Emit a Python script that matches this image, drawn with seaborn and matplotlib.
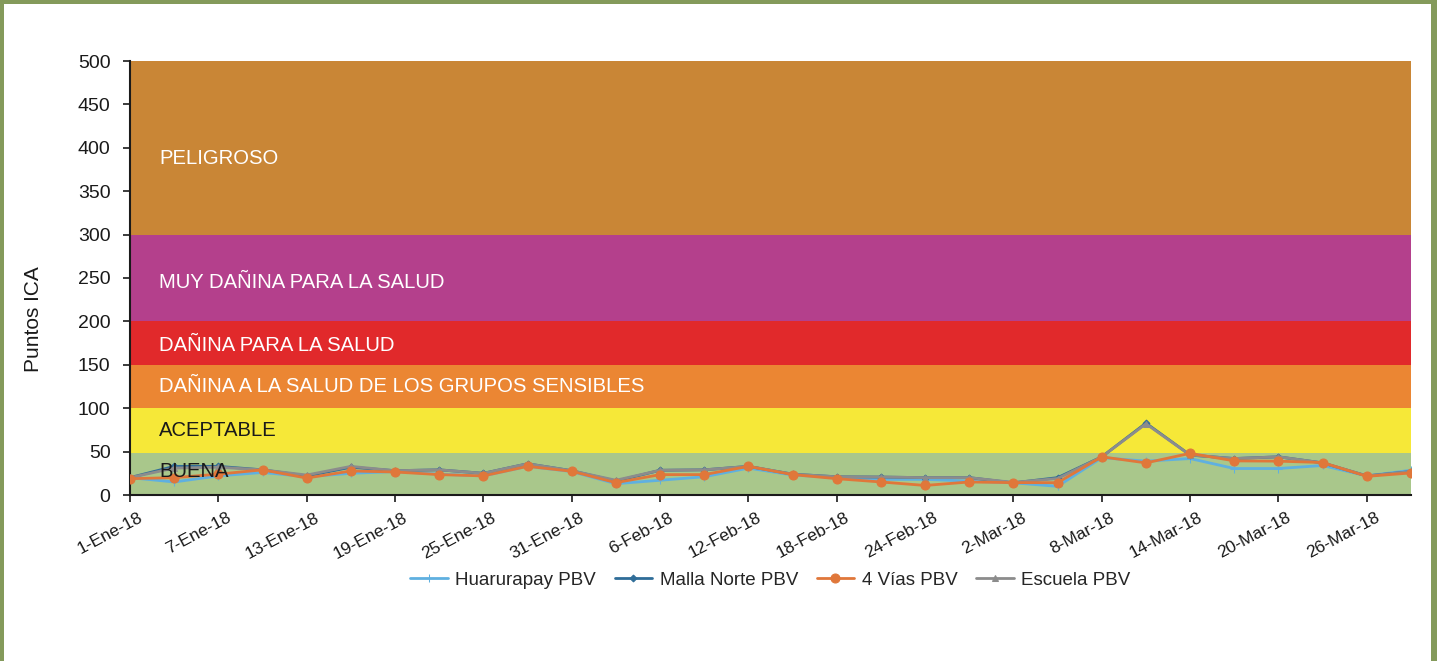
import matplotlib
matplotlib.use("Agg")
import matplotlib.pyplot as plt
import matplotlib.transforms as mtransforms
from matplotlib.patches import Rectangle
import seaborn as sns
import pandas as pd

# ---------------- data ----------------
dates = ["2018-01-01", "2018-01-04", "2018-01-07", "2018-01-10", "2018-01-13",
         "2018-01-16", "2018-01-19", "2018-01-22", "2018-01-25", "2018-01-28",
         "2018-01-31", "2018-02-03", "2018-02-06", "2018-02-09", "2018-02-12",
         "2018-02-15", "2018-02-18", "2018-02-21", "2018-02-24", "2018-02-27",
         "2018-03-02", "2018-03-05", "2018-03-08", "2018-03-11", "2018-03-14",
         "2018-03-17", "2018-03-20", "2018-03-23", "2018-03-26", "2018-03-29"]

huarurapay = [20, 15, 22, 26, 21, 25, 27, 24, 22, 33, 27, 13, 17, 21, 31,
              23, 20, 18, 18, 16, 14, 10, 43, 39, 42, 30.5, 30.5, 34, 22, 28.5]
malla_norte = [20, 33, 33, 29, 22, 32, 28, 29, 25, 36, 28, 16, 28.5, 29, 33,
               24, 21, 20.7, 20, 20, 14, 20, 44, 82.8, 46, 42, 44, 37, 22, 27]
cuatro_vias = [18.8, 20, 24, 29, 19.5, 27.7, 26.5, 23.5, 22, 33, 27.3, 14.2, 23.5, 23.5, 33,
               23.5, 18.8, 15, 11, 15, 14.2, 14.2, 44, 37, 48, 39.3, 39, 37.4, 21.5, 25.4]
escuela = [20, 31, 32, 29, 23, 33, 28, 29, 25, 36, 28, 17, 28.5, 29, 33,
           24, 21, 20.7, 20, 20, 14.5, 19, 44, 82, 46, 42, 44, 37, 22, 27]

series_names = ["Huarurapay PBV", "Malla Norte PBV", "4 Vías PBV", "Escuela PBV"]

tick_dates = ["2018-01-01", "2018-01-07", "2018-01-13", "2018-01-19", "2018-01-25",
              "2018-01-31", "2018-02-06", "2018-02-12", "2018-02-18", "2018-02-24",
              "2018-03-02", "2018-03-08", "2018-03-14", "2018-03-20", "2018-03-26"]
tick_labels = ["1-Ene-18", "7-Ene-18", "13-Ene-18", "19-Ene-18", "25-Ene-18",
               "31-Ene-18", "6-Feb-18", "12-Feb-18", "18-Feb-18", "24-Feb-18",
               "2-Mar-18", "8-Mar-18", "14-Mar-18", "20-Mar-18", "26-Mar-18"]

band_low = [0, 48, 100, 150, 200, 300]
band_high = [48, 100, 150, 200, 300, 500]
band_names = ["BUENA", "ACEPTABLE", "DAÑINA A LA SALUD DE LOS GRUPOS SENSIBLES",
              "DAÑINA PARA LA SALUD", "MUY DAÑINA PARA LA SALUD", "PELIGROSO"]

# ---------------- styles ----------------
band_colors = ["#a9c78b", "#f6e838", "#eb8633", "#e1292b", "#b4408c", "#c98636"]
band_text_colors = ["#1a1a1a", "#1a1a1a", "white", "white", "white", "white"]
band_text_y = [27, 74, 125, 172, 245, 388]

line_colors = {"Huarurapay PBV": "#5fb0e0", "Malla Norte PBV": "#2f6d98",
               "4 Vías PBV": "#e0773a", "Escuela PBV": "#8c8c8c"}
line_markers = {"Huarurapay PBV": "+", "Malla Norte PBV": "D",
                "4 Vías PBV": "o", "Escuela PBV": "^"}
marker_sizes = {"Huarurapay PBV": 6, "Malla Norte PBV": 3.5,
                "4 Vías PBV": 6.5, "Escuela PBV": 5}
zorders = {"Huarurapay PBV": 3, "Malla Norte PBV": 4, "4 Vías PBV": 6, "Escuela PBV": 5}

sns.set_style("ticks")
plt.rcParams["font.family"] = ["Liberation Sans", "DejaVu Sans"]

fig = plt.figure(figsize=(14.37, 6.61), dpi=100)
ax = fig.add_axes([130 / 1437, 1 - 495 / 661, (1411 - 130) / 1437, (495 - 61) / 661])

for lo, hi, c in zip(band_low, band_high, band_colors):
    ax.axhspan(lo, hi, color=c, lw=0, zorder=0)

handles = []
for name, vals in zip(series_names, [huarurapay, malla_norte, cuatro_vias, escuela]):
    d = pd.DataFrame({"fecha": pd.to_datetime(dates), "ICA": vals})
    sns.lineplot(data=d, x="fecha", y="ICA", color=line_colors[name],
                 marker=line_markers[name], markersize=marker_sizes[name],
                 markeredgecolor=line_colors[name], markerfacecolor=line_colors[name],
                 linewidth=2, legend=False, ax=ax, zorder=zorders[name])
    handles.append(ax.lines[-1])

x0 = pd.Timestamp("2018-01-03")
for name, ty, tc in zip(band_names, band_text_y, band_text_colors):
    ax.text(x0, ty, name, color=tc, fontsize=14.6, va="center", ha="left", zorder=7)

ax.set_xlim(pd.Timestamp(dates[0]), pd.Timestamp(dates[-1]))
ax.set_ylim(0, 500)
ax.set_yticks(range(0, 501, 50))
ax.tick_params(axis="y", labelsize=14, length=5, width=1.2, colors="#1a1a1a", pad=9)
ax.set_xticks(pd.to_datetime(tick_dates))
ax.set_xticklabels(tick_labels, rotation=28, ha="right", rotation_mode="anchor",
                   fontsize=12.5)
ax.tick_params(axis="x", length=5, width=1.2, colors="#1a1a1a", pad=6)
offset = mtransforms.ScaledTranslation(8 / 100, 0, fig.dpi_scale_trans)
for lbl in ax.get_xticklabels():
    lbl.set_transform(lbl.get_transform() + offset)
ax.set_xlabel("")
ax.set_ylabel("Puntos ICA", fontsize=15, color="#1a1a1a")
ax.yaxis.set_label_coords(-0.068, 0.405)
for s in ["top", "right"]:
    ax.spines[s].set_visible(False)
for s in ["left", "bottom"]:
    ax.spines[s].set_linewidth(1.5)
    ax.spines[s].set_color("#1a1a1a")

fig.legend(handles, series_names, loc="center", bbox_to_anchor=(0.536, 0.122),
           ncol=4, frameon=False, fontsize=13.5, handlelength=2.0, columnspacing=1.0,
           handletextpad=0.4)

border = "#849a5b"
fig.add_artist(Rectangle((0, 0), 4 / 1437, 1, transform=fig.transFigure,
                         color=border, lw=0, zorder=10))
fig.add_artist(Rectangle((0, 1 - 4 / 661), 1, 4 / 661, transform=fig.transFigure,
                         color=border, lw=0, zorder=10))
fig.add_artist(Rectangle((1431 / 1437, 0), 6 / 1437, 1, transform=fig.transFigure,
                         color=border, lw=0, zorder=10))

fig.savefig("out.png", dpi=100)
